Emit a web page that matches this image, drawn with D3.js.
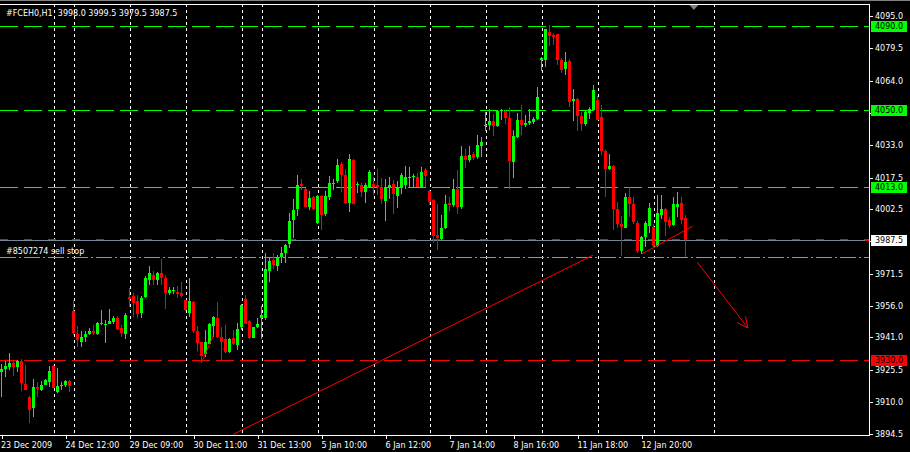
<!DOCTYPE html>
<html><head><meta charset="utf-8">
<script src="https://cdn.jsdelivr.net/npm/d3@7"></script>
<style>html,body{margin:0;padding:0;background:#000;overflow:hidden}</style>
</head><body>
<svg id="c" width="910" height="452"></svg>
<script>
// ---- data ----
const opens=[3924.3,3925.9,3926.7,3928.9,3927.0,3929.6,3918.7,3912.3,3907.1,3917.1,3916.0,3918.4,3919.5,3927.3,3915.0,3917.9,3918.4,3920.0,
3953.8,3942.7,3939.0,3941.3,3942.4,3944.2,3942.4,3947.7,3947.2,3947.5,3948.2,3950.4,3945.6,3942.4,
3960.2,3960.7,3958.3,3952.8,3960.4,3968.4,3971.1,3968.4,3971.6,3969.2,3962.3,3963.1,3962.8,3962.3,
3958.8,3952.7,3958.0,3943.9,3938.6,3932.8,3937.9,3946.3,3950.1,3941.4,3940.2,3933.9,3940.8,3937.1,
3945.9,3959.2,3948.7,3940.8,3945.8,
3950.3,3950.3,3972.7,3978.0,3975.3,3979.6,3981.5,3985.9,3997.2,4002.5,4014.5,4012.1,4003.6,4008.0,
3995.6,4008.9,4000.0,4008.0,4014.4,4015.7,4024.2,4018.9,4005.2,4026.0,4014.3,4014.0,4010.8,4013.2,
4014.3,4014.0,4013.2,4006.3,4012.4,4014.3,4008.7,4012.4,4014.0,4017.7,4017.7,4018.0,4013.2,4021.2,
4011.1,4006.8,3990.0,3988.1,3993.2,4005.2,4004.4,4011.9,4003.6,4028.0,4026.0,4028.9,4027.3,4032.9,
4042.1,4042.6,4044.5,4042.1,4049.6,4049.6,4046.1,4025.2,4036.8,4045.3,4042.9,4043.7,4044.2,4045.6,
4073.7,4073.8,4087.5,4085.9,4086.2,4073.7,4069.4,4073.4,4054.1,4055.4,4047.2,4043.4,4048.5,4050.1,
4054.9,4046.4,4030.4,4021.7,4023.3,4002.5,3995.3,3993.5,4008.3,4004.9,3995.9,3982.3,3988.9,3994.5,
3993.7,3984.9,3999.6,4002.5,3997.2,3994.8,4003.5,4005.2,3998.0];
const highs=[3928.3,3929.6,3933.6,3930.2,3930.2,3930.7,3927.8,3913.1,3921.1,3919.5,3920.3,3920.9,3927.3,3927.8,3926.4,3919.8,3920.8,3920.6,
3958.8,3946.3,3943.8,3944.0,3945.5,3946.7,3948.3,3954.0,3949.1,3954.8,3951.1,3951.1,3946.7,3952.8,
3964.4,3962.3,3961.5,3960.7,3970.3,3975.1,3972.9,3972.4,3978.3,3970.8,3965.2,3965.3,3965.5,3967.4,
3959.1,3969.3,3958.4,3946.3,3939.0,3944.3,3948.0,3951.2,3957.8,3945.9,3946.7,3940.7,3944.3,3947.9,
3956.8,3961.2,3949.1,3945.9,3950.4,
3955.9,3981.2,3979.6,3981.2,3980.4,3984.4,3985.7,4000.8,4007.2,4018.9,4016.9,4012.5,4010.9,4008.9,
4009.3,4009.2,4011.2,4018.4,4016.9,4026.6,4025.0,4021.8,4028.8,4026.3,4015.6,4014.8,4014.8,4021.2,
4018.0,4021.7,4017.2,4016.9,4017.7,4016.4,4016.1,4019.6,4023.2,4022.8,4019.3,4019.6,4022.8,4022.0,
4011.6,4007.1,4004.7,3999.6,4009.2,4008.1,4016.9,4021.2,4032.8,4031.2,4032.5,4030.0,4038.1,4036.8,
4049.0,4050.6,4048.0,4050.1,4050.6,4050.1,4051.4,4040.1,4048.5,4052.5,4047.7,4050.4,4046.6,4061.0,
4075.3,4088.9,4090.5,4086.7,4086.5,4075.0,4077.9,4074.5,4060.2,4055.7,4049.0,4049.8,4051.4,4062.1,
4056.5,4052.5,4030.7,4029.0,4023.6,4006.0,3999.3,4010.0,4012.8,4008.4,3996.7,3989.7,3996.7,4005.2,
3995.3,4009.2,4009.2,4002.8,3998.8,4008.0,4010.4,4008.4,3999.5];
const lows=[3912.3,3921.9,3925.4,3922.7,3924.3,3915.5,3915.8,3900.2,3903.0,3912.6,3915.2,3918.0,3917.1,3916.6,3914.5,3915.8,3917.1,3915.0,
3941.9,3936.2,3936.6,3939.0,3941.9,3941.9,3941.9,3946.7,3938.4,3947.2,3947.5,3944.3,3941.0,3940.0,
3955.6,3950.7,3950.4,3950.4,3959.9,3966.0,3966.0,3966.0,3966.0,3954.4,3961.2,3962.0,3960.0,3960.4,
3953.6,3950.8,3943.1,3934.4,3928.8,3931.8,3937.6,3941.1,3940.8,3929.9,3933.6,3933.6,3937.1,3934.7,
3944.3,3947.2,3940.3,3940.7,3945.3,
3940.0,3949.1,3967.6,3973.7,3972.9,3976.4,3976.7,3983.6,3988.4,3999.3,4011.7,4003.3,4002.0,4002.0,
3995.3,3992.4,3999.3,4006.9,4011.7,4014.9,4010.4,4004.9,4000.9,4004.7,4010.3,4008.1,4005.5,4012.9,
4009.2,4009.2,4004.9,3996.7,4007.3,4000.2,4002.8,4009.5,4012.1,4012.4,4013.2,4012.9,4012.9,4013.2,
4004.4,3986.3,3982.8,3987.6,3992.7,4001.5,4003.6,4000.1,4002.3,4022.0,4025.2,4026.0,4026.5,4027.6,
4039.7,4040.5,4037.6,4041.8,4045.3,4043.4,4012.1,4017.5,4036.5,4038.1,4041.6,4042.9,4043.4,4045.3,
4068.6,4070.5,4080.6,4080.9,4071.4,4067.7,4066.6,4051.2,4044.5,4040.0,4040.0,4042.1,4045.8,4049.3,
4045.0,4028.5,4008.4,4021.4,3992.4,3993.5,3980.1,3993.2,3998.5,3995.3,3981.2,3980.7,3984.4,3990.8,
3984.4,3984.4,3997.7,3989.7,3993.2,3994.5,3998.8,3995.3,3979.5];
const closes=[3925.9,3927.5,3928.9,3927.0,3929.6,3919.2,3916.0,3906.3,3917.1,3916.3,3918.4,3920.6,3925.1,3916.8,3917.7,3918.2,3920.0,3917.9,
3943.2,3939.5,3941.3,3942.7,3944.2,3943.2,3948.0,3948.0,3947.5,3949.0,3950.4,3945.1,3943.2,3951.9,
3959.4,3957.6,3952.3,3960.0,3969.2,3971.6,3968.4,3971.6,3969.2,3962.3,3963.9,3963.6,3962.0,3960.9,
3953.9,3958.3,3943.9,3938.2,3932.3,3938.6,3947.2,3950.8,3941.1,3938.7,3933.9,3940.3,3937.6,3945.1,
3956.4,3947.5,3940.7,3945.8,3947.2,
3951.6,3973.7,3977.5,3975.6,3979.4,3981.2,3985.1,3996.8,4002.0,4014.1,4013.3,4003.6,4007.7,4002.5,
4008.9,3999.6,4008.9,4014.9,4014.9,4023.7,4018.6,4005.3,4026.5,4004.9,4014.7,4010.8,4014.0,4020.1,
4013.1,4012.9,4007.1,4012.4,4014.0,4009.5,4012.7,4018.8,4018.0,4018.0,4018.5,4013.2,4020.1,4018.3,
4006.0,3989.7,3988.7,3993.2,4004.9,4004.4,4011.9,4003.6,4028.0,4026.0,4028.4,4026.8,4033.3,4034.4,
4042.9,4044.8,4042.4,4049.3,4050.1,4046.1,4025.6,4037.7,4045.3,4042.6,4043.7,4044.5,4045.8,4056.2,
4074.6,4088.6,4085.4,4084.9,4073.7,4068.9,4072.9,4053.6,4055.2,4046.9,4043.4,4048.8,4050.6,4059.3,
4045.3,4030.4,4021.7,4023.3,4002.5,3995.3,3994.0,4008.0,4005.1,3996.1,3982.3,3989.0,3995.9,4002.8,
3984.9,4000.7,4002.5,3996.4,3994.5,4004.9,4004.9,3997.2,3987.5];

const timeLabels=["23 Dec 2009","24 Dec 12:00","29 Dec 09:00","30 Dec 11:00","31 Dec 13:00","5 Jan 10:00","6 Jan 12:00","7 Jan 14:00","8 Jan 16:00","11 Jan 18:00","12 Jan 20:00"];
const timeLabelBars=[0,16,32,48,64,80,96,112,128,144,160];
const daySeparatorBars=[13,18,32,46,60,65,79,93,107,121,135,149,163,178];
// tick levels; labels at 4048.5 and 3987.0 are hidden behind the level boxes in the reference
const priceTicks=[4095.0,4079.5,4064.0,4048.5,4033.0,4017.5,4002.5,3987.0,3971.5,3956.0,3941.0,3925.5,3910.0,3894.5];
const hiddenTickLabels=[4048.5,3987.0];
const greenLevels=[4090.0,4050.0,4013.0];
const redLevel=3930.0;
const bidPrice=3987.5;
const stopLossLevel=3988.2;
const sellStopPrice=3979.5;
const title="#FCEH0,H1  3998.0 3999.5 3979.5 3987.5";
const orderLabel="#8507274 sell stop";
const longTrend=[[57.9,3894.5],[147.9,3980.4]];
const steepTrend=[[50.1,3929.3],[53.0,3942.1]];
const endTrend=[[160.05,3980.9],[172.8,3994.3]];
const arrowLine=[[173.9,3977.1],[186.6,3945.5]];

// ---- drawing ----
const svg=d3.select("#c");
const W=910,H=452, axisX=869, plotTop=4, plotBottom=435;
svg.append("rect").attr("width",W).attr("height",H).attr("fill","#000");
const x=d3.scaleLinear().domain([0,1]).range([1.5,5.5]);
const y=d3.scaleLinear().domain([3894.5,4095]).range([434.4,15.9]);
const font='"DejaVu Sans", Verdana, sans-serif';
const GREEN="#00ff00", RED="#ff0000";

svg.append("defs").append("clipPath").attr("id","plot").append("rect")
  .attr("x",0).attr("y",plotTop).attr("width",axisX).attr("height",plotBottom-plotTop);
const g=svg.append("g").attr("clip-path","url(#plot)").attr("shape-rendering","crispEdges");

// day separators
g.selectAll(".sep").data(daySeparatorBars).join("line")
  .attr("x1",d=>Math.round(x(d))+0.5).attr("x2",d=>Math.round(x(d))+0.5)
  .attr("y1",plotTop).attr("y2",plotBottom)
  .attr("stroke","#fff").attr("stroke-dasharray","3,3");

// horizontal levels
function hline(p,color,dash){
  const yy=Math.round(y(p))+0.5;
  g.append("line").attr("x1",0).attr("x2",axisX).attr("y1",yy).attr("y2",yy)
   .attr("stroke",color).attr("stroke-dasharray",dash);
}
greenLevels.forEach(p=>hline(p,GREEN,"18,6"));
hline(redLevel,RED,"18,6");
hline(sellStopPrice,GREEN,"16,3,2,3");
hline(stopLossLevel,RED,"8,16");
{
  const yy=Math.round(y(bidPrice))+0.5;
  g.append("line").attr("x1",0).attr("x2",axisX).attr("y1",yy).attr("y2",yy).attr("stroke","#778899");
}

// candles
const idx=d3.range(opens.length);
const cg=g.append("g");
cg.selectAll(".wick").data(idx).join("rect")
  .attr("x",i=>Math.round(x(i)-0.5)).attr("width",1)
  .attr("y",i=>Math.round(y(highs[i]))).attr("height",i=>Math.max(1,Math.round(y(lows[i]))-Math.round(y(highs[i]))))
  .attr("fill",i=>closes[i]>=opens[i]?GREEN:RED);
cg.selectAll(".body").data(idx).join("rect")
  .attr("x",i=>Math.round(x(i)-1.5)).attr("width",3)
  .attr("y",i=>Math.round(y(Math.max(opens[i],closes[i]))))
  .attr("height",i=>Math.max(1,Math.round(y(Math.min(opens[i],closes[i])))-Math.round(y(Math.max(opens[i],closes[i])))))
  .attr("fill",i=>closes[i]>=opens[i]?GREEN:RED);

// trend lines
const tg=svg.append("g").attr("clip-path","url(#plot)");
[longTrend,steepTrend,endTrend,arrowLine].forEach(t=>{
  tg.append("line").attr("x1",x(t[0][0])).attr("y1",y(t[0][1]))
    .attr("x2",x(t[1][0])).attr("y2",y(t[1][1])).attr("stroke",RED).attr("stroke-width",1);
});
{
  const x1=x(arrowLine[0][0]),y1=y(arrowLine[0][1]),x2=x(arrowLine[1][0]),y2=y(arrowLine[1][1]);
  const ang=Math.atan2(y2-y1,x2-x1), L=12;
  [ang+Math.PI-0.45, ang+Math.PI+0.45].forEach(a=>{
    tg.append("line").attr("x1",x2).attr("y1",y2).attr("x2",x2+L*Math.cos(a)).attr("y2",y2+L*Math.sin(a))
      .attr("stroke",RED);
  });
}

// frame
const fr=svg.append("g").attr("shape-rendering","crispEdges");
fr.append("line").attr("x1",0).attr("x2",W).attr("y1",0.5).attr("y2",0.5).attr("stroke","#808080");
fr.append("line").attr("x1",0).attr("x2",axisX).attr("y1",plotTop+0.5).attr("y2",plotTop+0.5).attr("stroke","#fff");
fr.append("line").attr("x1",axisX+0.5).attr("x2",axisX+0.5).attr("y1",plotTop).attr("y2",plotBottom+1).attr("stroke","#fff");
fr.append("line").attr("x1",0).attr("x2",axisX+1).attr("y1",plotBottom+0.5).attr("y2",plotBottom+0.5).attr("stroke","#fff");
// chart shift marker
svg.append("path").attr("d",`M${x(172)},${plotTop+1}L${x(174.2)},${plotTop+1}L${x(173.1)},${plotTop+6}Z`).attr("fill","#808080");

// price axis
const ax=svg.append("g");
priceTicks.forEach(p=>{
  const yy=Math.round(y(p))+0.5;
  ax.append("line").attr("x1",axisX+1).attr("x2",axisX+4).attr("y1",yy).attr("y2",yy).attr("stroke","#fff").attr("shape-rendering","crispEdges");
  if(!hiddenTickLabels.includes(p))
    ax.append("text").attr("x",875).attr("y",yy).attr("dy","0.36em").attr("fill","#fff")
      .attr("font-family",font).attr("font-size","8px").text(p.toFixed(1));
});
function priceBox(p,bg,tickColor){
  const yy=Math.round(y(p));
  ax.append("line").attr("x1",axisX-4).attr("x2",axisX).attr("y1",yy+0.5).attr("y2",yy+0.5).attr("stroke",tickColor).attr("shape-rendering","crispEdges");
  ax.append("rect").attr("x",871).attr("y",yy-5).attr("width",36).attr("height",11).attr("fill",bg);
  ax.append("text").attr("x",875).attr("y",yy+0.5).attr("dy","0.36em").attr("fill","#000")
    .attr("font-family",font).attr("font-size","8px").text(p.toFixed(1));
}
greenLevels.forEach(p=>priceBox(p,GREEN,GREEN));
priceBox(bidPrice,"#fff",RED);
priceBox(redLevel,RED,RED);
ax.append("line").attr("x1",axisX-4).attr("x2",axisX).attr("y1",Math.round(y(sellStopPrice))+0.5).attr("y2",Math.round(y(sellStopPrice))+0.5).attr("stroke",GREEN);

// time axis
timeLabelBars.forEach((b,i)=>{
  const xx=Math.round(x(b))-0.5;
  ax.append("line").attr("x1",xx+0.5).attr("x2",xx+0.5).attr("y1",plotBottom).attr("y2",plotBottom+4).attr("stroke","#fff").attr("shape-rendering","crispEdges");
  ax.append("text").attr("x",i===0?1:xx).attr("y",448).attr("fill","#fff")
    .attr("font-family",font).attr("font-size","8px").text(timeLabels[i]);
});

// texts
svg.append("text").attr("x",6).attr("y",16).attr("fill","#fff").attr("font-family",font).attr("font-size","8px")
  .attr("xml:space","preserve").style("white-space","pre").text(title);
svg.append("text").attr("x",6).attr("y",Math.round(y(sellStopPrice))-3).attr("fill","#fff").attr("font-family",font).attr("font-size","8px").text(orderLabel);
</script>
</body></html>
